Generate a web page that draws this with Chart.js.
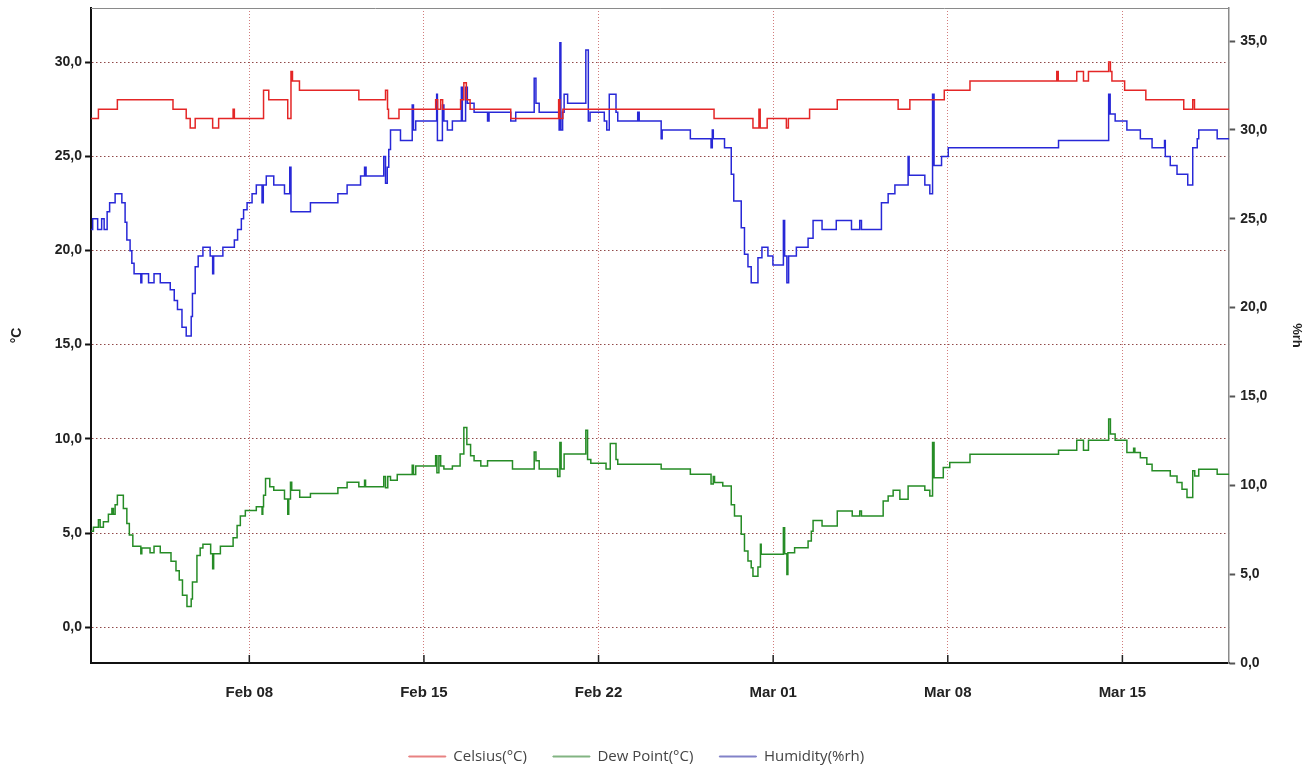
<!DOCTYPE html>
<html>
<head>
<meta charset="utf-8">
<script src="https://cdn.jsdelivr.net/npm/chart.js@4.4.0/dist/chart.umd.min.js"></script>
<style>
  html, body { margin: 0; padding: 0; background: #fff; }
</style>
</head>
<body>
<canvas id="lineChart" width="1311" height="768"></canvas>
<script>
// x values are days counted from Feb 01 00:00
const dateTicks = [7, 14, 21, 28, 35, 42];
const dateLabels = ['Feb 08', 'Feb 15', 'Feb 22', 'Mar 01', 'Mar 08', 'Mar 15'];
const tempTicks = [0, 5, 10, 15, 20, 25, 30];
const rhTicks = [0, 5, 10, 15, 20, 25, 30, 35];

const celsius = [
  [0.66, 27.0], [0.95, 27.5], [1.71, 28.0], [3.94, 27.5], [4.47, 27.0], [4.63, 26.5], [4.83, 27.0],
  [5.53, 26.5], [5.77, 27.0], [6.35, 27.5], [6.40, 27.0], [7.57, 28.5], [7.78, 28.0], [8.54, 27.0],
  [8.67, 29.5], [8.73, 29.0], [9.01, 28.5], [11.39, 28.0], [12.46, 28.5], [12.54, 27.5], [12.58, 27.0],
  [13.0, 27.5], [14.47, 28.0], [14.55, 27.5], [14.67, 28.0], [14.75, 27.5], [15.47, 28.0], [15.6, 28.9],
  [15.7, 28.0], [15.85, 27.5], [17.48, 27.0], [19.4, 28.0], [19.45, 27.0], [19.57, 27.5], [25.63, 27.0],
  [27.19, 26.5], [27.43, 27.5], [27.48, 26.5], [27.76, 27.0], [28.53, 26.5], [28.61, 27.0], [29.46, 27.5],
  [30.57, 28.0], [33.01, 27.5], [33.48, 28.0], [34.86, 28.5], [35.89, 29.0], [39.37, 29.5], [39.43, 29.0],
  [40.17, 29.5], [40.44, 29.0], [40.64, 29.5], [41.45, 30.0], [41.52, 29.5], [41.58, 29.0], [42.09, 28.5],
  [42.94, 28.0], [44.46, 27.5], [44.82, 28.0], [44.89, 27.5], [46.3, 27.5]
];

const dewPoint = [
  [0.66, 5.1], [0.75, 5.3], [0.95, 5.7], [1.02, 5.3], [1.15, 5.6], [1.35, 6.0], [1.49, 6.3], [1.55, 6.0],
  [1.62, 6.5], [1.71, 7.0], [1.95, 6.3], [2.09, 5.5], [2.19, 4.9], [2.33, 4.3], [2.65, 3.9], [2.69, 4.2],
  [3.02, 3.95], [3.18, 4.3], [3.43, 3.95], [3.86, 3.5], [4.06, 3.0], [4.19, 2.5], [4.32, 1.7], [4.50, 1.1],
  [4.67, 1.5], [4.72, 2.4], [4.90, 3.8], [5.03, 4.2], [5.14, 4.4], [5.45, 3.9], [5.53, 3.1], [5.57, 3.9],
  [5.84, 4.3], [6.35, 4.75], [6.51, 5.4], [6.64, 5.9], [6.84, 6.2], [7.28, 6.4], [7.51, 6.0], [7.54, 6.4],
  [7.57, 7.0], [7.65, 7.9], [7.82, 7.45], [7.98, 7.27], [8.41, 6.8], [8.54, 6.0], [8.58, 6.8], [8.65, 7.7],
  [8.7, 7.27], [9.02, 6.9], [9.45, 7.1], [10.55, 7.4], [10.92, 7.7], [11.39, 7.45], [11.62, 7.8], [11.66, 7.45],
  [12.39, 8.0], [12.46, 7.4], [12.55, 8.0], [12.66, 7.8], [12.93, 8.1], [13.53, 8.6], [13.58, 8.1], [13.67, 8.56],
  [14.47, 9.1], [14.52, 8.2], [14.6, 9.1], [14.67, 8.56], [14.80, 8.4], [15.14, 8.56], [15.45, 9.2], [15.60, 10.6],
  [15.72, 9.7], [15.87, 9.1], [16.01, 8.83], [16.28, 8.56], [16.55, 8.83], [17.55, 8.4], [18.42, 9.3], [18.49, 8.83],
  [18.62, 8.4], [19.36, 8.0], [19.45, 9.8], [19.50, 8.4], [19.62, 9.2], [20.49, 10.46], [20.56, 8.9], [20.69, 8.7],
  [21.30, 8.4], [21.47, 9.75], [21.70, 8.9], [21.77, 8.65], [23.51, 8.4], [24.68, 8.12], [25.51, 7.6], [25.6, 8.0],
  [25.65, 7.68], [25.98, 7.5], [26.32, 6.5], [26.45, 5.9], [26.72, 4.93], [26.85, 4.04], [26.99, 3.51], [27.12, 3.15],
  [27.19, 2.71], [27.39, 3.2], [27.49, 4.4], [27.52, 3.87], [28.41, 5.28], [28.46, 3.9], [28.55, 2.8], [28.59, 3.95],
  [28.86, 4.22], [29.40, 4.57], [29.53, 5.1], [29.60, 5.67], [29.96, 5.37], [30.57, 6.17], [31.17, 5.9], [31.47, 6.17],
  [31.54, 5.9], [32.41, 6.7], [32.61, 6.97], [32.81, 7.27], [33.08, 6.79], [33.41, 7.5], [34.08, 7.27], [34.28, 6.97],
  [34.39, 9.8], [34.45, 7.94], [34.82, 8.48], [35.08, 8.74], [35.89, 9.18], [39.44, 9.4], [40.17, 9.93], [40.44, 9.4],
  [40.64, 9.93], [41.45, 11.05], [41.52, 10.25], [41.71, 9.93], [42.18, 9.27], [42.45, 9.5], [42.50, 9.27], [42.72, 9.0],
  [42.98, 8.65], [43.19, 8.3], [43.92, 8.03], [44.19, 7.68], [44.39, 7.32], [44.59, 6.88], [44.82, 8.3], [44.9, 8.03],
  [45.06, 8.39], [45.80, 8.12], [46.3, 8.12]
];

const humidity = [
  [0.66, 24.4], [0.72, 25.0], [0.92, 24.4], [1.08, 25.0], [1.18, 24.4], [1.30, 25.4], [1.40, 25.9], [1.62, 26.4],
  [1.89, 25.9], [2.02, 24.8], [2.09, 23.8], [2.22, 23.2], [2.29, 22.5], [2.38, 21.9], [2.65, 21.4], [2.69, 21.9],
  [2.96, 21.4], [3.18, 21.9], [3.43, 21.4], [3.83, 21.0], [3.99, 20.4], [4.12, 19.9], [4.30, 18.9], [4.47, 18.4],
  [4.67, 19.5], [4.72, 20.8], [4.83, 22.3], [4.95, 22.9], [5.14, 23.4], [5.43, 22.9], [5.53, 21.9], [5.57, 22.9],
  [5.94, 23.4], [6.40, 23.8], [6.53, 24.4], [6.68, 25.0], [6.77, 25.5], [6.91, 25.9], [7.11, 26.4], [7.28, 26.9],
  [7.51, 25.9], [7.56, 26.9], [7.68, 27.4], [7.98, 26.9], [8.41, 26.4], [8.62, 27.9], [8.67, 25.4], [9.45, 25.9],
  [10.55, 26.4], [10.92, 26.9], [11.46, 27.4], [11.62, 27.9], [11.68, 27.4], [12.39, 28.5], [12.46, 27.0], [12.53, 27.9],
  [12.59, 28.9], [12.66, 30.0], [13.06, 29.4], [13.53, 31.4], [13.58, 30.0], [13.67, 30.5], [14.51, 32.0], [14.54, 29.4],
  [14.74, 31.4], [14.80, 30.5], [14.94, 30.0], [15.14, 30.5], [15.50, 32.4], [15.54, 30.5], [15.67, 32.4], [15.74, 31.5],
  [16.01, 31.0], [16.55, 30.5], [16.61, 31.0], [17.48, 30.5], [17.68, 31.0], [18.42, 32.9], [18.49, 31.5], [18.62, 31.0],
  [19.42, 30.0], [19.45, 34.9], [19.49, 30.0], [19.56, 31.0], [19.62, 32.0], [19.76, 31.5], [20.49, 34.5], [20.59, 30.5],
  [20.66, 31.0], [21.23, 30.5], [21.33, 30.0], [21.43, 32.0], [21.70, 31.0], [21.77, 30.5], [22.57, 31.0], [22.63, 30.5],
  [23.51, 29.5], [23.55, 30.0], [24.68, 29.5], [25.51, 29.0], [25.56, 30.0], [25.60, 29.5], [26.05, 29.0], [26.32, 27.5],
  [26.42, 26.0], [26.72, 24.5], [26.85, 23.0], [26.99, 22.3], [27.12, 21.4], [27.39, 22.8], [27.55, 23.4], [27.79, 22.9],
  [27.99, 22.4], [28.41, 24.9], [28.46, 22.9], [28.55, 21.4], [28.62, 22.9], [28.93, 23.4], [29.40, 23.9], [29.60, 24.9],
  [29.96, 24.4], [30.53, 24.9], [31.14, 24.4], [31.47, 24.9], [31.54, 24.4], [32.34, 25.9], [32.61, 26.4], [32.88, 26.9],
  [33.41, 28.5], [33.45, 27.45], [34.08, 26.9], [34.28, 26.4], [34.39, 32.0], [34.45, 28.0], [34.75, 28.5], [35.02, 29.0],
  [39.44, 29.4], [41.45, 32.0], [41.51, 30.9], [41.71, 30.5], [42.18, 30.0], [42.72, 29.5], [43.19, 29.0], [43.69, 29.4],
  [43.72, 28.5], [43.92, 28.0], [44.19, 27.5], [44.62, 26.9], [44.82, 29.0], [45.0, 29.5], [45.06, 30.0], [45.80, 29.5],
  [46.3, 29.5]
];

const toPoints = (rows) => rows.map(([x, y]) => ({ x, y }));
const commaLabel = (v) => Number(v).toFixed(1).replace('.', ',');
const fixTicks = (values) => (scale) => { scale.ticks = values.map((v) => ({ value: v })); };
// the end labels sit well inside the range, so no extra room is needed for them
const noEndPadding = (scale) => { scale.paddingTop = 0; scale.paddingBottom = 0; };

Chart.defaults.font.family = "'Liberation Sans', Arial, sans-serif";
Chart.defaults.color = '#222';

const legendFade = ['rgb(232,130,130)', 'rgb(130,180,130)', 'rgb(130,130,200)'];

// outline of the plot area plus the short inward date ticks
const frame = {
  id: 'frame',
  afterLayout(chart) {
    // the legend in the original sits a little left of centre
    chart.legend.left -= 19;
    chart.legend.right -= 19;
  },
  afterDraw(chart) {
    const { ctx, chartArea: a, scales } = chart;
    ctx.save();
    ctx.strokeStyle = '#8a8a8a';
    ctx.lineWidth = 1;
    ctx.beginPath();
    ctx.moveTo(a.left, a.top + 0.5);
    ctx.lineTo(a.right, a.top + 0.5);
    ctx.stroke();
    ctx.strokeStyle = '#222';
    ctx.lineWidth = 1.5;
    dateTicks.forEach((d) => {
      const x = scales.x.getPixelForValue(d);
      ctx.beginPath();
      ctx.moveTo(x, a.bottom);
      ctx.lineTo(x, a.bottom - 8);
      ctx.stroke();
    });
    ctx.restore();
  },
};

new Chart(document.getElementById('lineChart'), {
  type: 'line',
  data: {
    datasets: [
      {
        label: 'Celsius(°C)',
        data: toPoints(celsius),
        borderColor: 'rgb(228,38,38)',
        backgroundColor: 'rgb(228,38,38)',
        borderWidth: 1.5,
        stepped: true,
        radius: 0,
        yAxisID: 'y',
      },
      {
        label: 'Dew Point(°C)',
        data: toPoints(dewPoint),
        borderColor: 'rgb(38,140,38)',
        backgroundColor: 'rgb(38,140,38)',
        borderWidth: 1.5,
        stepped: true,
        radius: 0,
        yAxisID: 'y',
      },
      {
        label: 'Humidity(%rh)',
        data: toPoints(humidity),
        borderColor: 'rgb(40,40,215)',
        backgroundColor: 'rgb(40,40,215)',
        borderWidth: 1.5,
        stepped: true,
        radius: 0,
        yAxisID: 'y1',
      },
    ],
  },
  options: {
    responsive: false,
    animation: false,
    layout: { padding: { top: 8, left: 0, right: 0, bottom: -6 } },
    scales: {
      x: {
        type: 'linear',
        min: 0.655,
        max: 46.28,
        afterBuildTicks: fixTicks(dateTicks),
        ticks: {
          padding: 21,
          font: { size: 15, weight: 'bold' },
          callback: (v) => dateLabels[dateTicks.indexOf(v)],
        },
        grid: {
          drawTicks: false,
          color: 'rgba(205,110,110,0.9)',
          lineWidth: 1,
        },
        border: { color: '#111', width: 2, dash: [1, 2] },
      },
      y: {
        position: 'left',
        min: -1.9,
        max: 32.87,
        afterBuildTicks: fixTicks(tempTicks),
        afterFit: noEndPadding,
        ticks: {
          padding: 3,
          font: { size: 14, weight: 'bold' },
          callback: commaLabel,
        },
        grid: {
          color: 'rgba(125,40,40,0.85)',
          tickColor: '#111',
          tickLength: 6,
          tickWidth: 2,
        },
        border: { color: '#111', width: 2, dash: [1.5, 2.5] },
        title: {
          display: true,
          text: '°C',
          font: { size: 14, weight: 'bold' },
          padding: { top: 9, bottom: 26 },
        },
      },
      y1: {
        position: 'right',
        min: 0,
        max: 36.86,
        afterBuildTicks: fixTicks(rhTicks),
        afterFit: noEndPadding,
        ticks: {
          padding: 5,
          font: { size: 14, weight: 'bold' },
          callback: commaLabel,
        },
        grid: {
          drawOnChartArea: false,
          tickColor: '#555',
          tickLength: 6,
          tickWidth: 2,
        },
        border: { color: '#8a8a8a', width: 1.5 },
        title: {
          display: true,
          text: '%rh',
          font: { size: 13, weight: 'bold' },
          padding: { top: 7, bottom: 16 },
        },
      },
    },
    plugins: {
      legend: {
        position: 'bottom',
        labels: {
          boxWidth: 37,
          boxHeight: 1,
          padding: 26,
          color: '#444',
          font: { family: "'Open Sans', sans-serif", size: 15 },
          generateLabels: (chart) =>
            Chart.defaults.plugins.legend.labels.generateLabels(chart).map((item, i) => ({
              ...item,
              fillStyle: legendFade[i],
              strokeStyle: legendFade[i],
              lineWidth: 1,
            })),
        },
      },
      tooltip: { enabled: false },
    },
  },
  plugins: [frame],
});
</script>
</body>
</html>
